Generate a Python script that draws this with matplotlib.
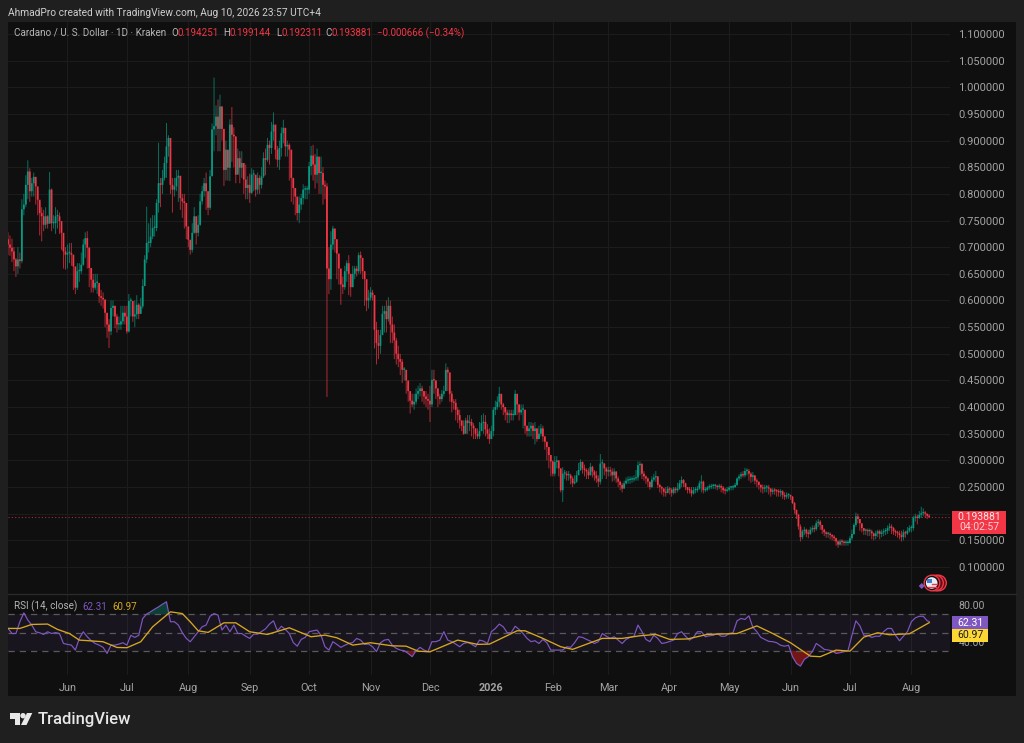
import matplotlib
matplotlib.use("Agg")
import matplotlib.pyplot as plt
import matplotlib.dates as mdates
from matplotlib.patches import Rectangle, Circle, Polygon
import numpy as np
import pandas as pd

plt.rcParams['font.family'] = ['Roboto', 'DejaVu Sans']

# ADA/USD daily candles, thousandths of a dollar
first_open = 715
closes = [
    705,699,692,677,664,677,674,771,780,817,
    842,805,820,832,814,789,764,758,742,758,
    744,808,745,745,758,758,749,727,692,686,
    689,689,686,664,624,655,655,667,705,717,
    699,661,639,624,633,633,608,605,602,577,
    555,542,586,590,570,555,555,561,577,570,
    542,599,599,570,574,592,575,589,627,677,
    708,708,720,736,736,783,820,817,830,858,
    889,905,817,808,814,830,834,792,786,783,
    739,714,695,727,758,727,742,786,805,820,
    805,774,833,921,927,945,922,964,922,845,
    883,849,930,911,908,836,867,849,858,827,
    811,817,802,836,836,808,830,817,833,867,
    864,892,886,917,930,883,864,886,914,924,
    889,892,883,830,811,795,764,780,792,808,
    808,808,852,872,855,836,870,839,839,817,
    814,660,640,705,735,715,688,660,630,625,
    655,670,650,625,650,660,655,685,680,655,
    640,600,605,615,610,545,520,515,535,575,
    580,565,590,555,540,525,500,490,485,470,
    470,450,430,412,405,410,425,430,435,430,
    420,415,412,405,451,450,435,420,415,425,
    430,470,465,425,410,408,395,385,375,365,
    350,375,370,372,365,360,350,345,355,370,
    372,358,350,340,355,395,400,410,425,405,
    400,390,385,388,385,385,425,405,390,395,
    395,365,355,360,365,355,360,340,350,360,
    345,335,325,310,298,275,297,300,285,244,
    275,275,272,272,266,257,260,272,282,297,
    285,282,279,272,288,279,272,266,260,294,
    294,285,279,282,279,272,279,266,260,254,
    247,257,262,263,264,264,266,268,291,293,
    275,270,266,260,250,264,268,270,254,250,
    247,241,239,247,245,239,247,244,247,257,
    263,257,250,245,244,238,244,244,247,257,
    260,244,245,249,250,252,252,252,250,252,
    249,244,243,245,249,249,250,254,266,270,
    274,272,280,280,275,269,272,262,260,254,
    249,247,249,249,247,241,244,243,242,240,
    242,235,232,235,235,232,220,207,198,176,
    156,167,170,163,162,170,173,171,182,185,
    179,170,165,162,162,160,157,154,148,142,
    148,147,145,145,145,154,162,179,195,190,
    182,173,168,168,167,167,163,158,163,167,
    162,165,167,168,173,176,173,167,165,163,
    160,156,165,163,168,173,173,192,194,192,
    198,201,202,200,196,194,
]
highs = [
    728,722,716,700,680,700,690,790,800,835,
    863,848,830,840,825,805,785,775,770,775,
    760,841,810,760,775,770,765,745,725,700,
    705,708,708,680,655,670,670,690,715,728,
    730,700,660,650,650,650,630,620,615,600,
    575,565,600,600,590,575,570,590,590,590,
    590,612,605,590,600,610,595,605,640,685,
    776,745,755,760,760,790,896,830,845,870,
    933,910,860,830,830,845,845,815,800,800,
    765,730,710,745,775,745,760,800,815,830,
    840,800,845,932,1018,966,977,986,964,885,
    900,880,940,963,925,875,885,880,880,845,
    855,833,838,848,845,835,840,835,850,878,
    885,905,900,935,953,925,890,900,925,939,
    905,900,895,840,825,810,785,795,800,818,
    815,815,860,890,892,875,885,862,870,850,
    825,820,700,730,740,730,700,675,640,645,
    665,675,685,650,665,665,665,690,692,670,
    655,620,620,625,620,610,560,545,545,590,
    590,600,606,600,570,555,530,515,500,490,
    475,460,445,425,425,425,435,440,445,440,
    430,430,425,440,470,470,450,435,425,432,
    440,482,475,465,430,415,415,400,395,375,
    375,380,385,385,378,370,360,360,372,385,
    388,385,368,360,365,400,412,420,438,418,
    408,400,395,395,395,395,432,415,405,405,
    405,395,365,372,372,370,372,360,365,368,
    365,345,335,325,310,300,308,308,295,285,
    287,282,280,280,275,270,272,280,295,302,
    298,292,285,285,295,290,282,280,272,312,
    302,295,288,288,288,285,285,280,270,262,
    258,262,268,270,270,270,272,282,298,298,
    295,280,272,268,260,270,275,280,270,256,
    252,248,250,252,250,248,250,250,258,263,
    270,265,258,250,250,250,250,250,252,262,
    272,262,250,252,255,256,256,256,254,256,
    255,252,248,250,252,252,254,258,268,274,
    278,280,286,285,284,278,278,270,266,260,
    255,255,254,254,254,248,248,248,246,246,
    246,244,240,240,238,236,233,222,208,200,
    180,170,175,172,170,175,178,178,187,190,
    188,178,172,167,166,165,162,160,155,150,
    152,152,150,150,150,158,170,182,202,200,
    190,180,172,172,172,172,170,165,168,170,
    170,170,172,173,178,182,180,175,170,168,
    168,168,170,168,175,178,178,196,200,198,
    205,213,210,205,200,199,
]
lows = [
    685,684,672,655,644,650,660,670,760,775,
    790,785,795,795,780,760,722,711,730,735,
    735,745,730,735,725,735,725,695,660,658,
    660,670,665,620,612,620,635,650,665,680,
    660,625,615,615,620,612,595,590,585,550,
    530,511,535,570,548,540,545,545,555,555,
    538,540,570,560,550,565,565,575,585,640,
    670,690,700,715,720,730,765,775,800,825,
    830,870,800,765,795,805,785,770,755,735,
    715,700,686,690,725,705,720,740,780,795,
    770,760,770,835,880,910,880,880,900,815,
    825,825,824,860,850,820,840,820,830,800,
    790,790,783,800,805,795,800,800,810,830,
    835,860,855,875,900,865,850,845,870,895,
    870,870,825,785,780,760,750,745,770,780,
    790,790,800,835,825,810,820,800,800,780,
    790,419,612,620,695,690,640,630,592,612,
    620,635,610,607,625,640,645,650,650,640,
    590,580,585,600,600,510,480,490,500,545,
    540,540,560,520,520,490,480,475,460,445,
    450,425,410,388,400,395,405,415,420,410,
    405,400,395,372,400,425,415,400,405,410,
    420,440,430,410,390,395,375,370,360,355,
    348,350,350,355,345,340,340,340,340,355,
    350,345,340,331,340,345,385,395,400,395,
    385,375,370,370,375,375,385,385,375,385,
    360,350,345,345,345,340,330,335,340,345,
    335,320,300,285,270,270,270,285,270,240,
    222,265,262,262,255,250,255,258,278,280,
    275,270,265,265,272,268,262,258,250,255,
    265,272,265,270,270,260,262,258,250,244,
    240,248,255,256,256,258,260,262,262,272,
    265,262,256,250,245,248,260,260,248,240,
    236,232,232,238,236,232,236,238,240,245,
    250,250,244,238,238,232,236,238,240,245,
    240,238,240,242,245,246,246,246,244,246,
    240,238,236,240,242,244,244,248,252,262,
    265,268,268,272,262,258,260,255,250,245,
    240,238,240,240,236,232,236,236,232,232,
    232,228,226,228,228,226,218,200,190,170,
    148,152,160,156,154,160,165,165,168,175,
    170,162,158,155,155,152,150,148,140,136,
    140,140,140,140,140,144,150,160,175,182,
    168,165,160,160,158,158,152,150,152,156,
    152,156,158,160,162,168,162,160,158,155,
    152,148,150,155,160,165,165,168,185,180,
    190,192,195,192,190,192,
]

# RSI(14) read every second day, last value is the live one
rsi_vals = [
    54.6,49,49,62,71.8,63.8,58.3,50.9,49.8,48,
    50.9,49,50,49,38,37,36.2,30.7,43.6,50.9,
    45.4,41,38,36.2,33.7,27,36.2,36.2,37.3,38.8,
    36.2,47,44.7,47,65.6,70.4,73,75.9,78.4,81.4,
    84,62,62,58.3,49.8,43.6,39.9,45.4,50.9,56.4,
    58.3,68,71,69.3,52.8,58.3,50.9,58.3,49,49,
    46,
    43.6,48.3,48.3,51.3,54.2,59.4,63,52,57,53.5,
    49,39,35,42.5,44.7,51,52,52.8,47,34.4,
    30.7,40,37,33.7,36,38,39,43.6,41.7,37,
    37.3,34.4,29,38.8,41.7,42.5,36,32.6,30.7,30,
    27,23.4,30,33.7,30.7,29,40,40,41.7,51,
    41.7,40,37.3,34.4,38,39,37.3,34.4,41.7,40.6,
    38,51,54.6,
    59.4,56.4,49.8,50,57,53.5,49,43.6,40,41,
    38,42.5,38.8,30.7,30.7,30.7,30.7,34.4,33.7,38.8,
    45.4,44.7,42.5,40.6,38,40,49,46,43.6,45.4,
    41.7,38,42.5,44.7,46,58.3,51,42.5,40,47,
    43.6,38,38.8,40.3,41.7,49,51,46,41.7,44.7,
    51,51,45.4,46.5,47,49,46,46,49,50,
    63,65.6,64.5,
    68.5,55.7,51,44.7,42.5,40.3,40,38.8,36,35,
    36,23.4,16,13,20.5,23.4,29,38,35,31.5,
    30.7,30,27,27.8,29,30,47,63,57.5,47,
    47,44.7,46,46,51,54.6,54.6,47,41,46,
    51,62,66.3,68,68,63,
    62.31,
]

# RSI moving average, day number since first candle and value
ma_days = [0,6,12,20,25,31,36,41,48,55,60,67,73,82,88,92,96,101,109,115,122,
           131,142,153,160,166,174,183,194,201,207,213,227,237,243,248,
           257,261,270,279,285,294,300,310,319,327,334,343,353,368,
           378,386,395,405,410,418,425,432,439,445,455,465]
ma_vals = [54.6,54.6,59,59.4,53.5,49,41.7,41,39.9,33.6,33.3,39.9,56.4,72.9,71,61.9,52,50.2,60.8,60.8,50.9,
           48,55.3,45.4,47.2,44.3,36.2,38.8,35.4,35,29.5,28.8,41.7,37,37.3,42.5,
           52,52,43.6,34.4,31.5,38.8,43.6,43.6,46.5,48,42.5,43,48,49,
           57.4,49,38.8,24,23.4,30.7,29.5,45,49.8,47.6,48.7,60.97]

price_ticks = [0.10,0.15,0.20,0.25,0.30,0.35,0.40,0.45,0.50,0.55,0.60,
               0.65,0.70,0.75,0.80,0.85,0.90,0.95,1.00,1.05,1.10]
month_dates = ['2025-06-01','2025-07-01','2025-08-01','2025-09-01','2025-10-01','2025-11-01',
               '2025-12-01','2026-01-01','2026-02-01','2026-03-01','2026-04-01','2026-05-01',
               '2026-06-01','2026-07-01','2026-08-01']
month_labels = ['Jun','Jul','Aug','Sep','Oct','Nov','Dec','2026','Feb','Mar','Apr','May','Jun','Jul','Aug']
last_close = 0.193881

W, H = 1024, 743
BG = '#1f1f1f'
PANE = '#0f0f0f'
GRID = '#1c1c1c'
UP = '#089981'
DOWN = '#f23645'
PURPLE = '#7e57c2'
YELLOW = '#d6a820'
TXT = '#a3a3a3'
LEG = '#b5b5b5'


def box(x0, y0, x1, y1):
    # pixel box (top-left origin) to figure coordinates
    return [x0 / W, 1 - y1 / H, (x1 - x0) / W, (y1 - y0) / H]


fig = plt.figure(figsize=(W / 100, H / 100), dpi=100, facecolor=BG)

dates = pd.date_range('2025-05-02', periods=len(closes))
days = mdates.date2num(dates)
o = np.array([first_open] + closes[:-1]) / 1000
c = np.array(closes) / 1000
h = np.array(highs) / 1000
l = np.array(lows) / 1000
colors = [UP if b >= a else DOWN for a, b in zip(o, c)]
month_x = mdates.date2num(pd.to_datetime(month_dates))

# price pane
ax = fig.add_axes(box(8, 22, 950, 593), facecolor=PANE)
wicks = ax.vlines(days, l, h, colors=colors, linewidth=0.7, alpha=0.7, zorder=2)
wicks.set_snap(False)
bars = ax.bar(days, np.maximum(np.abs(c - o), 0.0025), bottom=np.minimum(o, c), width=0.9,
              color=colors, linewidth=0, zorder=3)
for b in bars:
    b.set_snap(False)
ax.axhline(last_close, color=DOWN, linewidth=0.8, linestyle=(0, (1, 2)), alpha=0.7, zorder=1)
ax.set_xlim(days[0], days[0] + 475.5)
ax.set_ylim(0.0512, 1.1225)
ax.set_yticks(price_ticks)
# the 0.20 label sits behind the last-price tag
ax.set_yticklabels(['' if t == 0.20 else '%.6f' % t for t in price_ticks])
ax.yaxis.tick_right()
ax.set_xticks(month_x)
ax.tick_params(axis='x', length=0, labelbottom=False)
ax.tick_params(axis='y', length=0, pad=6, labelsize=8.0, labelcolor=TXT)
ax.grid(True, color=GRID, linewidth=0.8)
ax.set_axisbelow(True)
for s in ax.spines.values():
    s.set_visible(False)

# RSI pane
ax2 = fig.add_axes(box(8, 594, 950, 675), facecolor=PANE)
rsi_x = np.append(days[0] + 2 * np.arange(len(rsi_vals) - 1), days[-1])
rsi = np.array(rsi_vals)
ax2.axhspan(30, 70, color=PURPLE, alpha=0.09, linewidth=0)
for lev in (70, 50, 30):
    ax2.axhline(lev, color='#5a5a5a', linewidth=0.9, linestyle=(0, (5, 4)))
ax2.fill_between(rsi_x, 70, rsi, where=rsi > 70, interpolate=True, color=UP, alpha=0.35, linewidth=0)
ax2.fill_between(rsi_x, 30, rsi, where=rsi < 30, interpolate=True, color='#b71c1c', alpha=0.6, linewidth=0)
ax2.plot(rsi_x, rsi, color=PURPLE, linewidth=0.85)
ax2.plot(days[0] + np.array(ma_days), ma_vals, color=YELLOW, linewidth=0.95)
ax2.set_xlim(days[0], days[0] + 475.5)
ax2.set_ylim(3.2, 92.6)
ax2.set_yticks([40, 80])
ax2.set_yticklabels(['40.00', '80.00'])
ax2.yaxis.tick_right()
ax2.tick_params(axis='y', length=0, pad=6, labelsize=7.6, labelcolor=TXT)
ax2.set_xticks(month_x)
ax2.set_xticklabels(month_labels)
ax2.tick_params(axis='x', length=0, pad=6, labelsize=7.8, labelcolor=TXT)
ax2.get_xticklabels()[7].set_fontweight('bold')
ax2.xaxis.grid(True, color=GRID, linewidth=0.8)
ax2.yaxis.grid(False)
ax2.set_axisbelow(True)
for s in ax2.spines.values():
    s.set_visible(False)

# pane background behind the axes
back = fig.add_axes([0, 0, 1, 1], zorder=-1)
back.set_xlim(0, W)
back.set_ylim(H, 0)
back.axis('off')
back.add_patch(Rectangle((8, 22), 1008, 674, color=PANE, linewidth=0))

# labels, price tags, logo in pixel coordinates
top = fig.add_axes([0, 0, 1, 1], zorder=5)
top.set_xlim(0, W)
top.set_ylim(H, 0)
top.axis('off')
top.patch.set_alpha(0)
top.plot([8, 1016], [593.5, 593.5], color='#2c2c2c', linewidth=0.9)

top.text(8, 12.5, 'AhmadPro created with TradingView.com, Aug 10, 2026 23:57 UTC+4',
         color='#cfcfcf', fontsize=7.3, va='center')
top.text(14, 33, 'Cardano / U. S. Dollar · 1D · Kraken', color=LEG, fontsize=7.1, va='center')
for x, t, col in [(171, 'O', LEG), (178, '0.194251', DOWN), (223, 'H', LEG), (230, '0.199144', DOWN),
                  (276, 'L', LEG), (281, '0.192311', DOWN), (325, 'C', LEG), (331, '0.193881', DOWN),
                  (377, '−0.000666 (−0.34%)', DOWN)]:
    top.text(x, 33, t, color=col, fontsize=7.0, va='center')

top.text(14, 606.5, 'RSI (14, close)', color=LEG, fontsize=7.1, va='center')
top.text(82, 606.5, '62.31', color=PURPLE, fontsize=7.1, va='center')
top.text(112, 606.5, '60.97', color=YELLOW, fontsize=7.1, va='center')

top.add_patch(Rectangle((952, 511), 54, 23, color=DOWN, linewidth=0))
top.text(979, 517.5, '0.193881', color='#ffe3e5', fontsize=7.5, ha='center', va='center')
top.text(979, 527.5, '04:02:57', color='#ffd0d4', fontsize=7.5, ha='center', va='center')
top.add_patch(Rectangle((952, 615.5), 36, 13.5, color=PURPLE, linewidth=0))
top.add_patch(Rectangle((952, 629), 36, 13, color='#fdd835', linewidth=0))
top.text(970, 622.5, '62.31', color='white', fontsize=7.6, ha='center', va='center')
top.text(970, 635.5, '60.97', color='#1a1a1a', fontsize=7.6, ha='center', va='center')

# event marker near the axis
for cx in (938.5, 935.5):
    top.add_patch(Circle((cx, 583), 7.8, facecolor='#5b0f18', edgecolor=DOWN, linewidth=1.0))
top.add_patch(Circle((932, 583), 7.8, facecolor='#111111', edgecolor=DOWN, linewidth=1.0))
top.add_patch(Circle((931.7, 583), 5.8, facecolor='#e8edf5', edgecolor='none'))
top.add_patch(Rectangle((927, 578.5), 5, 4.5, color='#3f7fd0', linewidth=0))
top.plot([932, 936.5], [584, 584], color=DOWN, linewidth=1)
top.plot([927.5, 936], [586.5, 586.5], color=DOWN, linewidth=1)
top.add_patch(Polygon([(921.7, 583), (924.7, 586), (921.7, 589), (918.7, 586)], color=PURPLE, linewidth=0))

# TradingView logo
logo = '#e8e8e8'
top.add_patch(Polygon([(9.5, 713), (19.5, 713), (19.5, 725), (14.5, 725), (14.5, 718.5), (9.5, 718.5)], color=logo, linewidth=0))
top.add_patch(Circle((23, 715.7), 2.7, color=logo, linewidth=0))
top.add_patch(Polygon([(27, 713), (32.3, 713), (26.5, 725), (21, 725)], color=logo, linewidth=0))
top.text(38, 719.5, 'TradingView', color=logo, fontsize=12.0, fontweight='medium', va='center')

fig.savefig('out.png', dpi=100, facecolor=BG)
